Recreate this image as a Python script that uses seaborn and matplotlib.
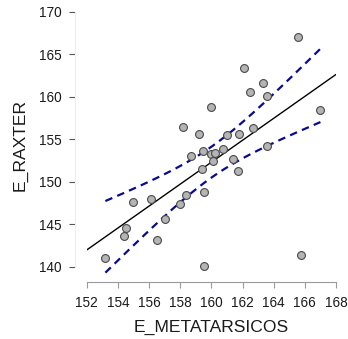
import numpy as np
import pandas as pd
import matplotlib
matplotlib.use("Agg")
import matplotlib.pyplot as plt
import seaborn as sns

# Data
e_metatarsicos = [153.2, 154.4, 154.5, 155.0, 156.1, 156.5, 157.0, 158.0, 158.2, 158.35,
                  158.7, 159.2, 159.4, 159.45, 159.5, 159.55, 160.0, 160.0, 160.1, 160.25,
                  160.75, 161.0, 161.4, 161.7, 161.8, 162.1, 162.45, 162.65, 163.3, 163.55,
                  163.6, 165.55, 165.75, 167.0]
e_raxter = [141.0, 143.6, 144.6, 147.6, 148.0, 143.1, 145.65, 147.4, 156.4, 148.45,
            153.0, 155.6, 151.45, 153.6, 140.05, 148.8, 153.25, 158.85, 152.4, 153.35,
            153.9, 155.5, 152.7, 151.25, 155.6, 163.4, 160.55, 156.3, 161.6, 154.2,
            160.05, 167.05, 141.4, 158.4]
x_ticks = [152, 154, 156, 158, 160, 162, 164, 166, 168]
y_ticks = [140, 145, 150, 155, 160, 165, 170]
x_label = "E_METATARSICOS"
y_label = "E_RAXTER"
T_975 = 2.037  # t quantile, 95% two-sided, df = n - 2 = 32

df = pd.DataFrame({x_label: e_metatarsicos, y_label: e_raxter})

# OLS fit and confidence band for the mean
x = np.asarray(e_metatarsicos)
y = np.asarray(e_raxter)
n = len(x)
b1, b0 = np.polyfit(x, y, 1)
resid = y - (b0 + b1 * x)
s = np.sqrt(np.sum(resid ** 2) / (n - 2))
sxx = np.sum((x - x.mean()) ** 2)

xl = np.linspace(x_ticks[0], x_ticks[-1], 200)
fit_df = pd.DataFrame({"x": xl, "y": b0 + b1 * xl})
xb = np.linspace(x.min(), x.max(), 200)
se = s * np.sqrt(1.0 / n + (xb - x.mean()) ** 2 / sxx)
yb = b0 + b1 * xb
up_df = pd.DataFrame({"x": xb, "y": yb + T_975 * se})
lo_df = pd.DataFrame({"x": xb, "y": yb - T_975 * se})

sns.set_style("white")
plt.rcParams["font.family"] = ["Liberation Sans", "DejaVu Sans"]

fig = plt.figure(figsize=(3.48, 3.39), dpi=100)
ax = fig.add_axes([0.2491, 0.1681, 0.7164, 0.8097])

sns.lineplot(data=fit_df, x="x", y="y", ax=ax, color="black", lw=1.0, zorder=2)
band_kw = dict(color="#0a0a90", lw=1.6, zorder=3)
l1 = sns.lineplot(data=up_df, x="x", y="y", ax=ax, **band_kw).lines[-1]
l1.set_dashes([3.4, 2.4])
l2 = sns.lineplot(data=lo_df, x="x", y="y", ax=ax, **band_kw).lines[-1]
l2.set_dashes([3.4, 2.4])
sns.scatterplot(data=df, x=x_label, y=y_label, ax=ax, s=32, color="#b4b4b4",
                edgecolor="#4a4a4a", linewidth=0.8, zorder=4)

ax.set_xlim(152, 168)
ax.set_ylim(138.2, 170.5)
ax.set_xticks(x_ticks)
ax.set_yticks(y_ticks)

for sp in ["top", "right"]:
    ax.spines[sp].set_visible(False)
ax.spines["left"].set_position(("outward", 8.6))
ax.spines["left"].set_bounds(140, 170)
ax.spines["left"].set_color("#eeeeee")
ax.spines["left"].set_linewidth(0.8)
ax.spines["bottom"].set_bounds(152, 168)
ax.spines["bottom"].set_color("#9a9a9a")
ax.spines["bottom"].set_linewidth(0.8)

ax.tick_params(axis="x", direction="out", length=4, width=0.8, color="#9a9a9a",
               labelsize=9.8, labelcolor="#1a1a1a", pad=6, bottom=True)
ax.tick_params(axis="y", direction="out", length=4.5, width=0.8, color="#555555",
               labelsize=9.8, labelcolor="#1a1a1a", pad=5, left=True)

ax.set_xlabel(x_label, fontsize=12.6, color="#1a1a1a", labelpad=7)
ax.set_ylabel(y_label, fontsize=12.6, color="#1a1a1a", labelpad=8)

fig.savefig("out.png", dpi=100)
